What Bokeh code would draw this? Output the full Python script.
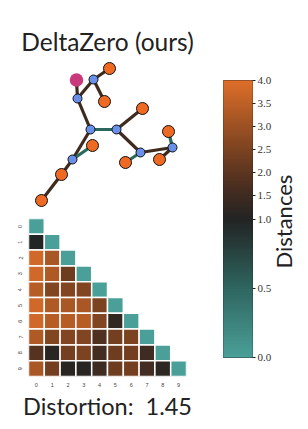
import numpy as np
from bokeh.plotting import figure
from bokeh.layouts import row, column
from bokeh.models import ColumnDataSource, FixedTicker, Range1d, Title, Label
from bokeh.transform import linear_cmap
from bokeh.embed import file_html
from bokeh.resources import INLINE

# ---------------- data ----------------
title_text = "DeltaZero (ours)"
distortion_text = "Distortion:\u00a0 1.45"
cbar_label = "Distances"

# tree embedding (layout coordinates)
node_names = ["r", "A", "O1", "B", "O2", "O3", "C", "D", "O4", "E", "O5", "F", "G", "O6", "O7", "O8", "O9"]
node_x = [76, 93, 109, 77, 104, 142, 90, 116, 168, 172, 92, 140, 72, 159, 125, 61, 41]
node_y = [79.5, 79, 68, 98, 101, 108, 129, 129, 131, 147, 145, 152, 159, 159, 162, 174, 200]
node_kind = ["root", "inner", "leaf", "inner", "leaf", "leaf", "inner", "inner", "leaf",
             "inner", "leaf", "inner", "inner", "leaf", "leaf", "leaf", "leaf"]

edge_src = ["r", "B", "A", "A", "B", "C", "D", "D", "F", "E", "E", "F", "C", "G", "G", "O8"]
edge_dst = ["B", "A", "O1", "O2", "C", "D", "O3", "F", "E", "O4", "O6", "O7", "G", "O5", "O8", "O9"]
edge_kind = ["far", "far", "far", "far", "far", "near", "far", "far", "far", "near", "far",
             "near", "far", "near", "far", "far"]

# distance matrix (lower triangle incl. diagonal), rows 0..9
dist_rows = [
    [0.0],
    [1.0, 0.0],
    [3.8, 3.2, 0.0],
    [3.8, 3.3, 2.3, 0.0],
    [3.4, 2.6, 2.6, 2.6, 0.0],
    [3.8, 3.3, 3.2, 3.2, 2.5, 0.0],
    [3.8, 3.4, 3.4, 3.4, 2.6, 1.3, 0.0],
    [3.3, 2.6, 2.6, 2.6, 1.8, 2.4, 2.5, 0.0],
    [1.9, 1.1, 2.4, 2.5, 1.6, 2.3, 2.4, 1.5, 0.0],
    [3.2, 2.4, 1.1, 1.1, 1.5, 2.3, 2.4, 1.6, 1.2, 0.0],
]
tick_labels = [str(i) for i in range(10)]

cbar_vmin, cbar_vcenter, cbar_vmax = 0.0, 1.0, 4.0
cbar_ticks = [0.0, 0.5, 1.0, 1.5, 2.0, 2.5, 3.0, 3.5, 4.0]

# ---------------- styles ----------------
anchor_pos = [0.0, 0.25, 0.5, 0.62, 0.75, 1.0]
anchor_col = ["#4aa098", "#2f6660", "#222424", "#4a2e20", "#7a4220", "#dc6e2a"]


def hex2rgb(hc):
    return np.array([int(hc[i:i + 2], 16) for i in (1, 3, 5)], dtype=float)


def make_palette(n=256):
    rgbs = np.array([hex2rgb(col) for col in anchor_col])
    t = np.linspace(0, 1, n)
    out = []
    for tt in t:
        r = np.interp(tt, anchor_pos, rgbs[:, 0])
        gg = np.interp(tt, anchor_pos, rgbs[:, 1])
        b = np.interp(tt, anchor_pos, rgbs[:, 2])
        out.append("#%02x%02x%02x" % (int(round(r)), int(round(gg)), int(round(b))))
    return out


palette = make_palette()


def norm(v):
    v = np.asarray(v, dtype=float)
    return np.where(v <= cbar_vcenter,
                    0.5 * (v - cbar_vmin) / (cbar_vcenter - cbar_vmin),
                    0.5 + 0.5 * (v - cbar_vcenter) / (cbar_vmax - cbar_vcenter))


TITLE_FONT = "Lato"

# ---------------- graph figure ----------------
g = figure(width=200, height=210, output_backend="svg", toolbar_location=None,
           x_range=Range1d(28, 186), y_range=Range1d(210, 58),
           min_border_left=28, min_border_right=14, min_border_top=58, min_border_bottom=0)
g.title.text = title_text
g.title.align = "center"
g.title.text_font = TITLE_FONT
g.title.text_font_size = "24.5px"
g.title.text_font_style = "normal"
g.title.text_color = "#222222"
g.title.standoff = 6
g.axis.visible = False
g.grid.visible = False
g.outline_line_color = None
g.background_fill_color = None
g.border_fill_color = None

idx = {n: i for i, n in enumerate(node_names)}
edge_colors = {"far": "#3f2b1e", "near": "#2a6a5e"}
g.multi_line(xs=[[node_x[idx[a]], node_x[idx[b]]] for a, b in zip(edge_src, edge_dst)],
             ys=[[node_y[idx[a]], node_y[idx[b]]] for a, b in zip(edge_src, edge_dst)],
             line_color=[edge_colors[k] for k in edge_kind], line_width=3.2)

kind_fill = {"root": "#c93a7c", "inner": "#6a8fe8", "leaf": "#ee6a22"}
kind_size = {"root": 13.5, "inner": 9, "leaf": 12}
kind_line = {"root": None, "inner": "#111111", "leaf": "#111111"}
for kind in ["inner", "leaf", "root"]:
    sel = [i for i, k in enumerate(node_kind) if k == kind]
    g.scatter([node_x[i] for i in sel], [node_y[i] for i in sel], size=kind_size[kind],
              fill_color=kind_fill[kind], line_color=kind_line[kind], line_width=1.0)

# ---------------- heatmap figure ----------------
hx, hy, hv = [], [], []
for i, r in enumerate(dist_rows):
    for j, v in enumerate(r):
        hx.append(j)
        hy.append(i)
        hv.append(v)
hsrc = ColumnDataSource(dict(x=hx, y=hy, v=hv, n=norm(hv)))

h = figure(width=200, height=219, output_backend="svg", toolbar_location=None,
           x_range=Range1d(-0.5, 9.5), y_range=Range1d(9.5, -0.5),
           min_border_left=28, min_border_right=14, min_border_top=8, min_border_bottom=53)
h.rect("x", "y", width=1, height=1, source=hsrc,
       fill_color=linear_cmap("n", palette, 0, 1), line_color="white", line_width=1.5)
h.grid.visible = False
h.outline_line_color = None
h.background_fill_color = None
h.border_fill_color = None
for ax in (h.xaxis[0], h.yaxis[0]):
    ax.ticker = FixedTicker(ticks=list(range(10)))
    ax.major_label_overrides = {i: t for i, t in enumerate(tick_labels)}
    ax.axis_line_color = None
    ax.major_tick_line_color = None
    ax.minor_tick_line_color = None
    ax.major_label_text_font_size = "5.5px"
    ax.major_label_text_color = "#444444"
h.xaxis[0].major_label_standoff = 0
h.yaxis[0].major_label_orientation = "vertical"
h.yaxis[0].major_label_standoff = 0

h.add_layout(Title(text=distortion_text, align="center", text_font=TITLE_FONT,
                   text_font_size="23.5px", text_font_style="normal", text_color="#222222",
                   standoff=0),
             "below")

# ---------------- colorbar figure ----------------
nseg = 256
edges = np.linspace(0, 1, nseg + 1)
csrc = ColumnDataSource(dict(bottom=edges[:-1], top=edges[1:], mid=(edges[:-1] + edges[1:]) / 2))
c = figure(width=74, height=429, output_backend="svg", toolbar_location=None,
           x_range=Range1d(0, 1), y_range=Range1d(0, 1), y_axis_location="right",
           min_border_left=23, min_border_right=22, min_border_top=80, min_border_bottom=72)
cm = linear_cmap("mid", palette, 0, 1)
c.quad(left=0, right=1, bottom="bottom", top="top", source=csrc,
       fill_color=cm, line_color=cm, line_width=1.2)
c.xaxis.visible = False
c.grid.visible = False
c.outline_line_color = "#222222"
c.outline_line_width = 1
c.background_fill_color = None
c.border_fill_color = None
ya = c.yaxis[0]
tick_pos = [float(p) for p in norm(cbar_ticks)]
ya.ticker = FixedTicker(ticks=tick_pos)
ya.major_label_overrides = {p: "%.1f" % t for p, t in zip(tick_pos, cbar_ticks)}
ya.axis_line_color = None
ya.minor_tick_line_color = None
ya.major_tick_out = 3
ya.major_tick_in = 0
ya.major_tick_line_color = "#222222"
ya.major_label_text_font = "Liberation Serif"
ya.major_label_text_font_size = "11px"
ya.major_label_text_color = "#333333"
ya.major_label_standoff = 2

# ---------------- colorbar label (rotated text in a slim figure) ----------------
lab = figure(width=34, height=429, output_backend="svg", toolbar_location=None,
             x_range=Range1d(274, 308), y_range=Range1d(429, 0),
             min_border_left=0, min_border_right=0, min_border_top=0, min_border_bottom=0)
lab.axis.visible = False
lab.grid.visible = False
lab.outline_line_color = None
lab.background_fill_color = None
lab.border_fill_color = None
lab.add_layout(Label(x=282.5, y=218.5, text=cbar_label, angle=float(np.pi / 2),
                     text_align="center", text_baseline="middle",
                     text_font=TITLE_FONT, text_font_size="22px", text_color="#222222"))

layout = row(column(g, h), c, lab)
open("out.html", "w").write(file_html(layout, INLINE))
